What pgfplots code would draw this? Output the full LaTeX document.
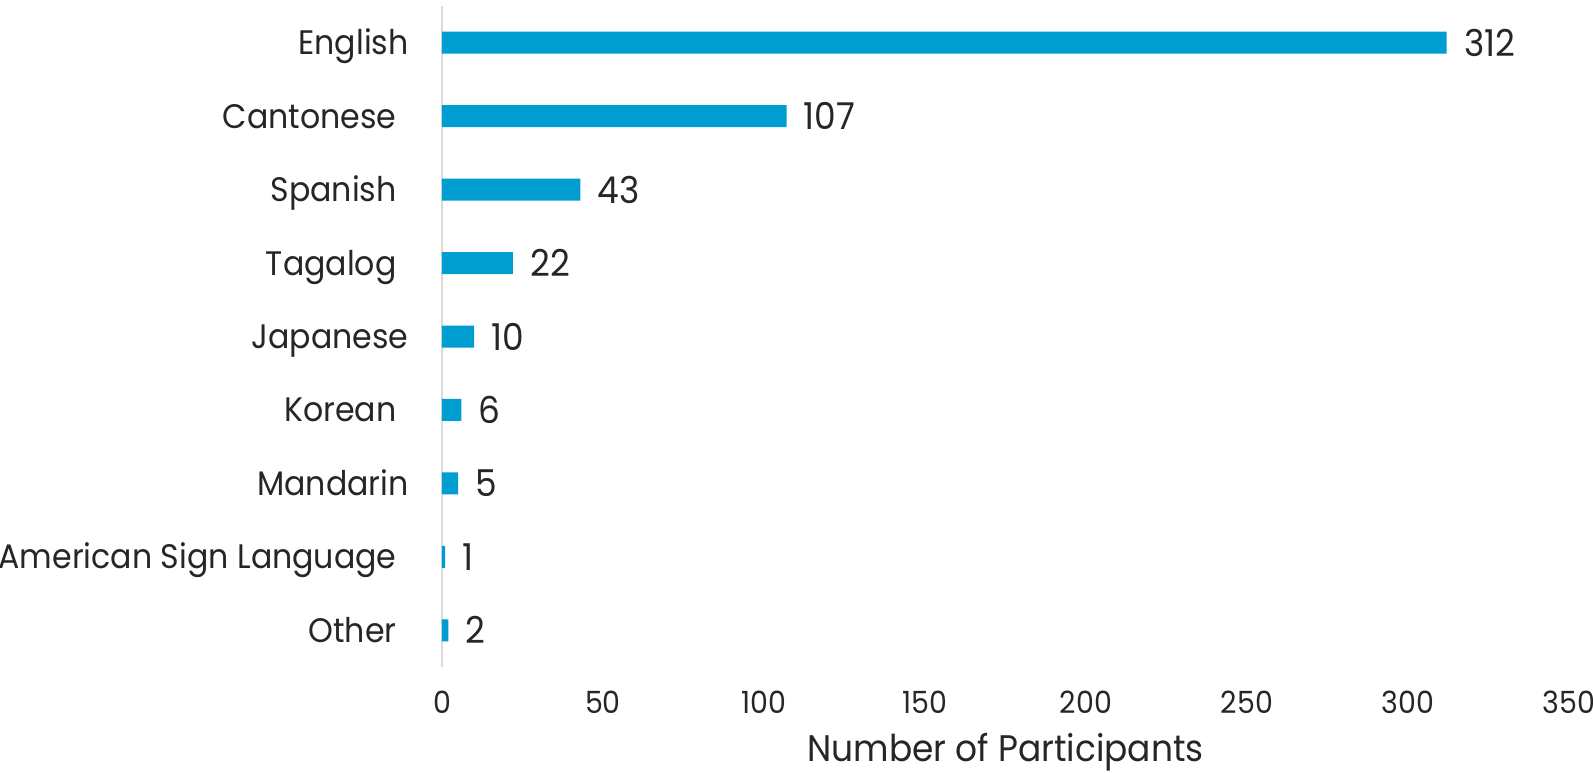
\documentclass[border=0pt]{standalone}
\usepackage{fontspec}
\setmainfont{Poppins}[FakeStretch=0.93]
\usepackage{pgfplots}
\pgfplotsset{compat=1.18}
\definecolor{barblue}{RGB}{0,158,208}
\definecolor{txt}{RGB}{38,38,38}
\definecolor{axgray}{RGB}{217,217,217}
\begin{document}
\begin{tikzpicture}
\path[use as bounding box] (-221bp,-53bp) rectangle (575.5bp,333.5bp);
\begin{axis}[
  at={(0,0)}, anchor=south west,
  scale only axis, width=563.5bp, height=330.5bp,
  xmin=0, xmax=350, ymin=-0.5, ymax=8.5,
  xbar, bar width=11bp,
  axis lines*=left, axis line style={-},
  x axis line style={draw=none},
  y axis line style={draw=axgray, line width=1bp},
  major tick length=0pt,
  tick style={draw=none},
  /pgf/number format/assume math mode=true,
  xtick={0,50,...,350},
  ytick={0,...,8},
  yticklabels={Other\hspace*{6bp}, American Sign Language\hspace*{6bp}, Mandarin, Korean\hspace*{6bp}, Japanese, Tagalog\hspace*{6bp}, Spanish\hspace*{6bp}, Cantonese\hspace*{6bp}, English},
  xticklabel style={font=\fontsize{15.3bp}{18bp}\selectfont, text=txt, anchor=base, inner sep=0pt, yshift=-23bp},
  yticklabel style={font=\fontsize{17bp}{20bp}\selectfont, text=txt, anchor=base east, inner sep=0pt, xshift=-16.5bp, yshift=-6bp},
  xlabel={Number of Participants},
  xlabel style={font=\fontsize{18.5bp}{22bp}\selectfont, text=txt, at={(axis description cs:0.5,0)}, anchor=base, inner sep=0pt, yshift=-47bp},
  point meta=x,
  nodes near coords,
  nodes near coords style={anchor=west, inner sep=0pt, xshift=8.5bp, font=\fontsize{18.5bp}{20bp}\selectfont, text=txt},
]
\addplot[fill=barblue, draw=none] coordinates {(2,0) (1,1) (5,2) (6,3) (10,4) (22,5) (43,6) (107,7) (312,8)};
\end{axis}
\end{tikzpicture}
\end{document}
